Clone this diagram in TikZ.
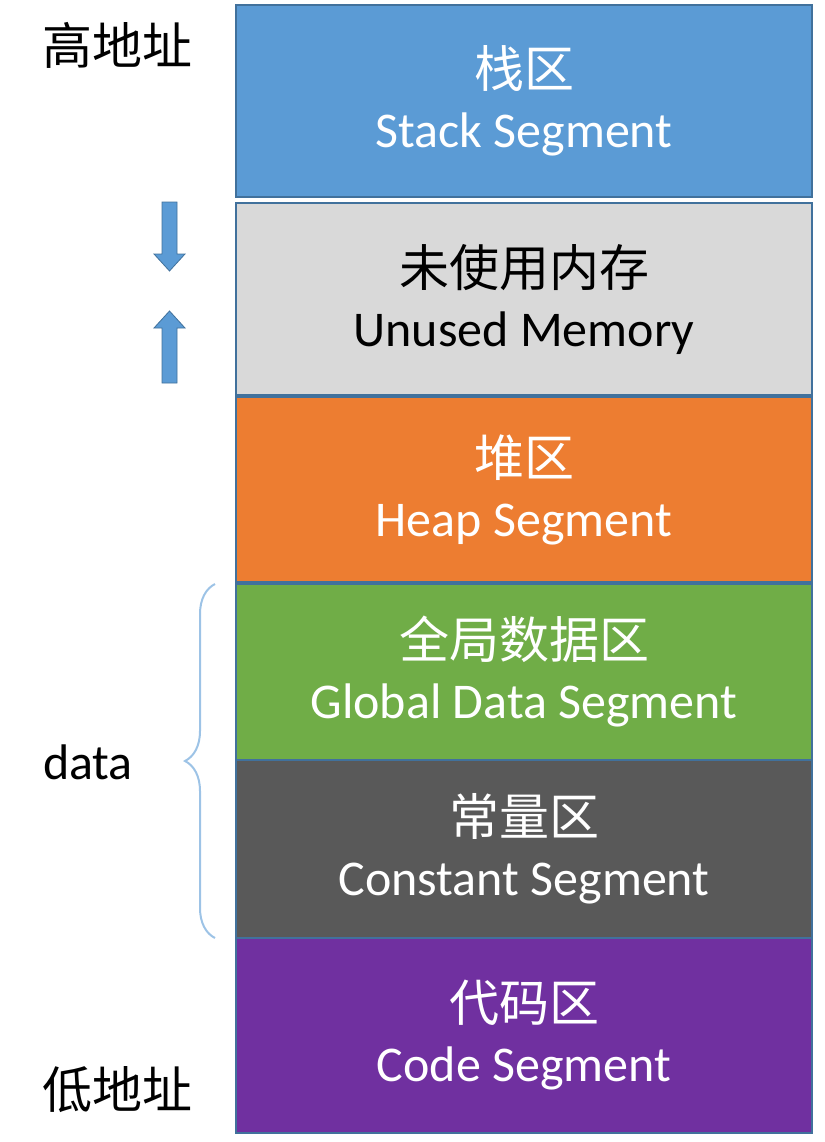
\documentclass[tikz,border=0pt]{standalone}
\usepackage{fontspec}
\setmainfont{Carlito}
\newfontfamily\cjk{Noto Sans CJK SC}
\usetikzlibrary{decorations.pathreplacing}

\definecolor{segline}{HTML}{41719C}
\definecolor{stackc}{HTML}{5B9BD5}
\definecolor{unusedc}{HTML}{D9D9D9}
\definecolor{heapc}{HTML}{ED7D31}
\definecolor{globalc}{HTML}{70AD47}
\definecolor{constc}{HTML}{595959}
\definecolor{codec}{HTML}{7030A0}
\definecolor{bracec}{HTML}{9DC3E6}

\tikzset{
  seg/.style={draw=segline, line width=1.2pt, minimum width=576pt,
    inner sep=0pt, align=center, text=white,
    font=\fontsize{50}{60}\selectfont},
  side/.style={inner sep=0pt, font=\fontsize{50}{60}\selectfont},
  growarrow/.style={fill=stackc, draw=segline, line width=0.8pt}
}

\begin{document}
\begin{tikzpicture}[x=1pt, y=-1pt]
    \useasboundingbox (0,0) rectangle (824,1142);

    % 各内存段
    \node[seg, fill=stackc, minimum height=192pt] (stack) at (524,101) {{\cjk 栈区}\\Stack Segment};
    \node[seg, fill=unusedc, text=black, minimum height=192pt] (unused) at (524,299) {{\cjk 未使用内存}\\Unused Memory};
    \node[seg, fill=heapc, minimum height=185pt] (heap) at (524,489.5) {{\cjk 堆区}\\Heap Segment};
    \node[seg, fill=globalc, minimum height=176pt] (global) at (524,672) {{\cjk 全局数据区}\\Global Data Segment};
    \node[seg, fill=constc, minimum height=178pt] (const) at (524,849) {{\cjk 常量区}\\Constant Segment};
    \node[seg, fill=codec, minimum height=195pt] (code) at (524,1035.5) {{\cjk 代码区}\\Code Segment};

    % 地址标注
    \node[side] (high) at (117,45) {\cjk 高地址};
    \node[side] (low) at (117,1090) {\cjk 低地址};

    % 栈向下、堆向上增长
    \draw[growarrow] (162,202) -- (177,202) -- (177,254) -- (185,254)
      -- (169.5,271) -- (154,254) -- (162,254) -- cycle;
    \draw[growarrow] (162,383) -- (177,383) -- (177,328) -- (185,328)
      -- (169.5,311) -- (154,328) -- (162,328) -- cycle;

    % data 大括号
    \coordinate (bracelow) at (215,938);
    \coordinate (bracehigh) at (215,584);
    \draw[bracec, line width=2pt, decorate,
      decoration={brace, amplitude=30pt}] (bracelow) -- (bracehigh);
    \node[side] (data) at (88,762) {data};
\end{tikzpicture}
\end{document}
